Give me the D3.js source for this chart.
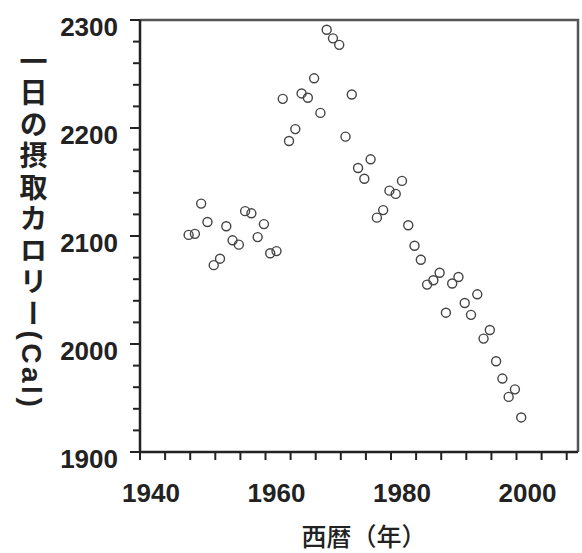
<!DOCTYPE html>
<html>
<head>
<meta charset="utf-8">
<script src="https://cdn.jsdelivr.net/npm/d3@7"></script>
<style>
  body { margin: 0; background: #fff; }
  svg { display: block; }
</style>
</head>
<body>
<div id="chart"></div>
<script>
// 年ごとの一日の摂取カロリー
const years = [1946, 1947, 1948, 1949, 1950, 1951, 1952, 1953, 1954, 1955,
    1956, 1957, 1958, 1959, 1960, 1961, 1962, 1963, 1964, 1965,
    1966, 1967, 1968, 1969, 1970, 1971, 1972, 1973, 1974, 1975,
    1976, 1977, 1978, 1979, 1980, 1981, 1982, 1983, 1984, 1985,
    1986, 1987, 1988, 1989, 1990, 1991, 1992, 1993, 1994, 1995,
    1996, 1997, 1998, 1999];
const calories = [2101, 2102, 2130, 2113, 2073, 2079, 2109, 2096, 2092, 2123,
    2121, 2099, 2111, 2084, 2086, 2227, 2188, 2199, 2232, 2228,
    2246, 2214, 2291, 2283, 2277, 2192, 2231, 2163, 2153, 2171,
    2117, 2124, 2142, 2139, 2151, 2110, 2091, 2078, 2055, 2059,
    2066, 2029, 2056, 2062, 2038, 2027, 2046, 2005, 2013, 1984,
    1968, 1951, 1958, 1932];
const xTickLabels = [1940, 1960, 1980, 2000];
const yTickLabels = [1900, 2000, 2100, 2200, 2300];

const data = years.map((y, i) => ({ year: y, cal: calories[i] }));

const width = 582, height = 553;
const margin = { top: 20, right: 4, bottom: 101, left: 140 };

const svg = d3.select("#chart").append("svg")
    .attr("width", width)
    .attr("height", height);

const x = d3.scaleLinear()
    .domain([1938.25, 2008.05])
    .range([margin.left, width - margin.right]);

const y = d3.scaleLinear()
    .domain([1900, 2300])
    .range([height - margin.bottom, margin.top]);

const font = "'Liberation Sans', Arial, 'Noto Sans CJK JP', sans-serif";

// 枠（上と右）
svg.append("path")
    .attr("d", `M${x.range()[0]},${y(2300)}H${x.range()[1]}V${y(1900)}`)
    .attr("fill", "none")
    .attr("stroke", "#555")
    .attr("stroke-width", 2.5);

// Y軸
svg.append("line")
    .attr("x1", x.range()[0]).attr("x2", x.range()[0])
    .attr("y1", y(2300)).attr("y2", y(1900))
    .attr("stroke", "#222").attr("stroke-width", 2.5);

svg.selectAll(".ytick")
    .data(d3.range(1900, 2301, 20))
    .enter().append("line")
    .attr("x1", d => x.range()[0] - (d % 100 === 0 ? 10 : 7))
    .attr("x2", x.range()[0])
    .attr("y1", d => y(d)).attr("y2", d => y(d))
    .attr("stroke", "#222").attr("stroke-width", 2);

svg.selectAll(".ylabel")
    .data(yTickLabels)
    .enter().append("text")
    .attr("x", 118)
    .attr("y", d => y(d) + 7)
    .attr("dy", "0.35em")
    .attr("text-anchor", "end")
    .style("font-family", font)
    .style("font-weight", "bold")
    .style("font-size", "26px")
    .attr("fill", "#222")
    .text(d => d);

// X軸
svg.append("line")
    .attr("x1", x.range()[0]).attr("x2", x.range()[1])
    .attr("y1", y(1900)).attr("y2", y(1900))
    .attr("stroke", "#222").attr("stroke-width", 2.5);

svg.selectAll(".xtick")
    .data(d3.range(x.domain()[0], x.domain()[1], 4))
    .enter().append("line")
    .attr("x1", d => x(d)).attr("x2", d => x(d))
    .attr("y1", y(1900)).attr("y2", y(1900) + 8)
    .attr("stroke", "#222").attr("stroke-width", 2);

svg.selectAll(".xlabel")
    .data(xTickLabels)
    .enter().append("text")
    .attr("x", d => x(d))
    .attr("y", 502)
    .attr("text-anchor", "middle")
    .style("font-family", font)
    .style("font-weight", "bold")
    .style("font-size", "26px")
    .attr("fill", "#222")
    .text(d => d);

// 軸タイトル
svg.append("text")
    .attr("x", 364)
    .attr("y", 546)
    .attr("text-anchor", "middle")
    .style("font-family", "'Noto Sans CJK JP', sans-serif")
    .style("font-weight", "500")
    .style("font-size", "25px")
    .attr("fill", "#222")
    .text("西暦（年）");

svg.append("text")
    .attr("x", 31)
    .attr("y", 47)
    .style("writing-mode", "vertical-rl")
    .style("font-family", font)
    .style("font-weight", "bold")
    .style("font-size", "28px")
    .style("letter-spacing", "3.5px")
    .attr("fill", "#222")
    .text("一日の摂取カロリー(Cal)");

// データ点
svg.selectAll(".dot")
    .data(data)
    .enter().append("circle")
    .attr("cx", d => x(d.year))
    .attr("cy", d => y(d.cal))
    .attr("r", 4.5)
    .attr("fill", "none")
    .attr("stroke", "#444")
    .attr("stroke-width", 1.4);
</script>
</body>
</html>
